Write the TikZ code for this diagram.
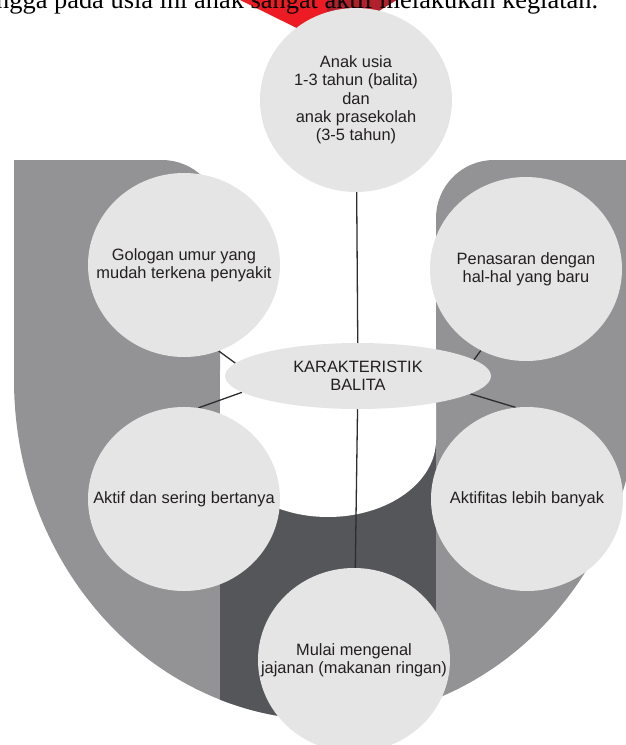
\documentclass[tikz,border=0pt]{standalone}
\usepackage{fontspec}
\setmainfont{Liberation Sans}
\newfontfamily\pageserif{Liberation Serif}
\usepackage{xcolor}
\usepackage{tikz}
\usetikzlibrary{shapes.geometric, positioning}
\definecolor{bubble}{RGB}{229,229,229}
\definecolor{armgray}{RGB}{147,147,149}
\definecolor{bandgray}{RGB}{85,86,90}
\definecolor{chevred}{RGB}{237,28,36}
\definecolor{chevdark}{RGB}{178,32,44}
\definecolor{inkline}{RGB}{45,45,45}
\definecolor{ink}{RGB}{35,31,32}
\pgfdeclarelayer{background}
\pgfsetlayers{background,main}
\tikzset{
    trait/.style={ellipse, fill=bubble, minimum width=192pt, minimum height=184pt, inner xsep=-30pt, inner ysep=0pt, text centered, align=center, text=ink, font=\fontsize{16.4}{18.3}\selectfont},
    hub/.style={ellipse, fill=bubble, minimum width=266pt, minimum height=66pt, inner xsep=-30pt, inner ysep=0pt, text centered, align=center, text=ink, font=\fontsize{16.4}{17.5}\selectfont},
    link/.style={draw=inkline, line width=1.3pt}
}

\begin{document}
\begin{tikzpicture}[x=1pt, y=-1pt]
    \useasboundingbox (0,0) rectangle (626,745);
    % Background U shape and red marker
    \begin{pgfonlayer}{background}
    \fill[armgray] (14,160) -- (162,160) arc[start angle=-90, end angle=0, radius=58]
        -- (220,380) -- (436,380) -- (436,218) arc[start angle=180, end angle=270, radius=58]
        -- (640,160) -- (640,380) arc[start angle=0, end angle=180, x radius=313, y radius=340] -- cycle;
    \begin{scope}
        \clip (640,380) arc[start angle=0, end angle=180, x radius=313, y radius=340] -- cycle;
        \fill[bandgray] (220,380) rectangle (436,745);
    \end{scope}
    \fill[white] (220,370) -- (436,370) -- (436,440) arc[start angle=0, end angle=180, x radius=108, y radius=77] -- cycle;
    \fill[chevred] (236,-2) -- (327,-2) -- (327,43) -- cycle;
    \fill[chevdark] (327,-2) -- (400,-2) -- (327,43) -- cycle;
    \end{pgfonlayer}
    \node[anchor=base west, inner sep=0pt, font=\pageserif\fontsize{26.4}{30}\selectfont] (pageline) at (-4,8) {ngga pada usia ini anak sangat aktif melakukan kegiatan.};
    % Characteristics
    \node[trait] (usia) at (356,100) {Anak usia\\1-3 tahun (balita)\\dan\\anak prasekolah\\(3-5 tahun)};
    \node[trait] (rentan) at (184,265) {Gologan umur yang\\mudah terkena penyakit};
    \node[trait] (penasaran) at (526,269) {Penasaran dengan\\hal-hal yang baru};
    \node[hub] (karakteristik) at (358,376) {KARAKTERISTIK\\BALITA};
    \node[trait] (aktif) at (184,499) {Aktif dan sering bertanya};
    \node[trait] (aktifitas) at (527,499) {Aktifitas lebih banyak};
    \node[trait] (jajanan) at (354,660) {Mulai mengenal\\jajanan (makanan ringan)};
    % Links
    \begin{pgfonlayer}{background}
    \draw[link] (usia) -- (karakteristik);
    \draw[link] (karakteristik) -- (jajanan);
    \draw[link] (rentan.-68) -- (karakteristik.174);
    \draw[link] (aktif.81) -- (karakteristik.188);
    \draw[link] (penasaran.-119) -- (karakteristik.8);
    \draw[link] (aktifitas.97) -- (karakteristik.-9);
    \end{pgfonlayer}
\end{tikzpicture}
\end{document}
